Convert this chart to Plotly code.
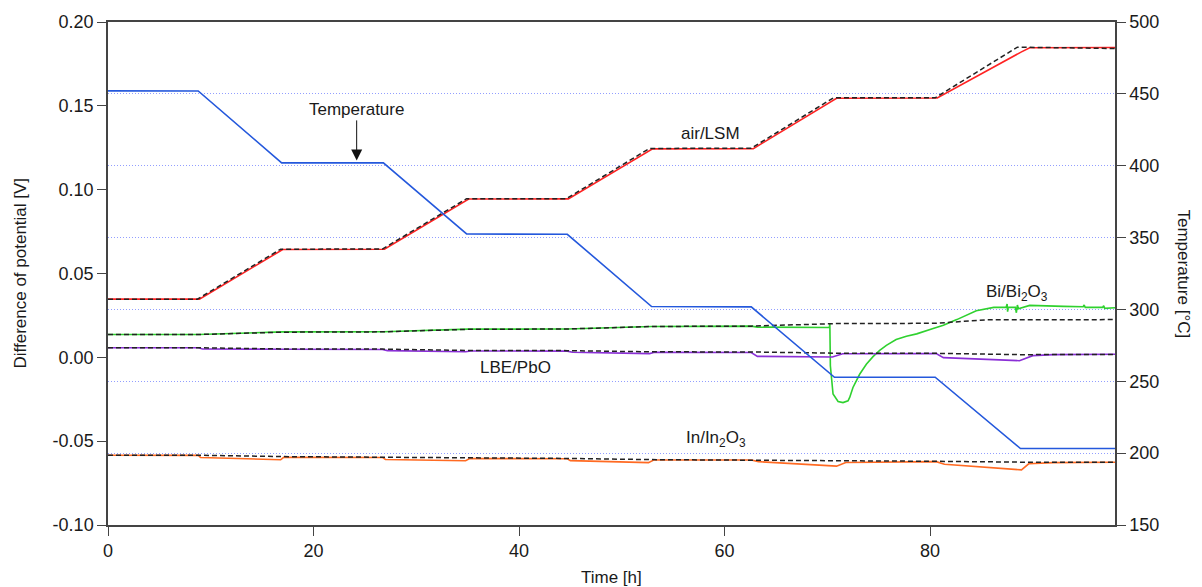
import plotly.graph_objects as go

# ---------------- data ----------------
# Temperature (right axis, degC)
temp_t = [0, 8.78, 16.9, 26.8, 34.9, 44.7, 52.9, 62.6, 70.7, 80.5, 88.8, 98]
temp_v = [452.1, 452.0, 402.0, 402.0, 352.5, 352.3, 302.0, 301.8, 252.8, 252.8, 203.2, 203.2]

# air/LSM measured (left axis, V)
lsm_t = [0, 8.9, 17.0, 26.9, 35.1, 44.8, 53.0, 62.8, 70.9, 80.7, 88.9, 89.7, 98]
lsm_v = [0.0347, 0.0347, 0.0643, 0.0645, 0.0944, 0.0945, 0.1243, 0.1245, 0.1545, 0.1547,
         0.1822, 0.1846, 0.1848]
# air/LSM theoretical (dashed)
lsm_th_t = [0, 8.7, 16.8, 26.7, 34.9, 44.6, 52.7, 62.6, 70.6, 80.5, 88.5, 98]
lsm_th_v = [0.0347, 0.0347, 0.0645, 0.0646, 0.0946, 0.0946, 0.1246, 0.1247, 0.1548, 0.1548,
            0.1850, 0.1842]

# Bi/Bi2O3 measured
bi_t = [0, 8.8, 17.0, 26.8, 35.0, 44.7, 52.9, 62.6, 63.2, 70.2, 70.25, 70.3, 70.56, 71.05,
        71.53, 72.02, 72.18, 72.5, 73.15, 73.8, 74.45, 75.1, 75.75, 76.7, 77.7, 78.7, 80.3,
        81.3, 82.6, 84.5, 86.2, 87.4, 87.5, 87.55, 87.6, 88.3, 88.4, 88.5, 88.6, 89.7, 93.0,
        94.9, 95.0, 95.1, 96.8, 96.9, 97.0, 98]
bi_v = [0.0136, 0.0136, 0.0152, 0.0153, 0.0168, 0.0169, 0.0184, 0.0186, 0.0180, 0.0178,
        0.0200, -0.0050, -0.0219, -0.0263, -0.0270, -0.0259, -0.0239, -0.0180, -0.0101,
        -0.0041, 0.0004, 0.0041, 0.0071, 0.0106, 0.0126, 0.0140, 0.0172, 0.0191, 0.0225,
        0.0278, 0.0298, 0.0298, 0.0318, 0.0272, 0.0298, 0.0298, 0.0266, 0.0312, 0.0290,
        0.0310, 0.0304, 0.0302, 0.0312, 0.0298, 0.0298, 0.0308, 0.0292, 0.0296]
# Bi/Bi2O3 theoretical
bi_th_t = [0, 8.8, 17.0, 26.8, 35.0, 44.7, 52.9, 62.6, 70.6, 80.5, 85.5, 98]
bi_th_v = [0.0136, 0.0136, 0.0150, 0.0152, 0.0167, 0.0169, 0.0184, 0.0186, 0.0201, 0.0203,
           0.0224, 0.0225]

# LBE/PbO measured
lbe_t = [0, 8.8, 9.2, 16.8, 17.2, 26.7, 27.2, 34.8, 35.3, 44.7, 45.2, 52.7, 53.2, 62.6,
         63.2, 70.5, 71.5, 80.6, 81.3, 88.7, 90.0, 92.0, 98]
lbe_v = [0.0057, 0.0057, 0.0050, 0.0044, 0.0048, 0.0047, 0.0040, 0.0033, 0.0038, 0.0037,
         0.0030, 0.0022, 0.0030, 0.0029, 0.0006, 0.0002, 0.0021, 0.0022, -0.0002, -0.0020,
         0.0010, 0.0016, 0.0018]
# LBE/PbO theoretical
lbe_th_t = [0, 8.8, 17.0, 26.7, 35.0, 44.7, 52.7, 62.6, 70.6, 80.5, 88.7, 98]
lbe_th_v = [0.0057, 0.0057, 0.0050, 0.0049, 0.0041, 0.0040, 0.0033, 0.0032, 0.0025, 0.0024,
            0.0016, 0.0017]

# In/In2O3 measured
in_t = [0, 8.8, 9.0, 16.8, 17.1, 26.7, 27.0, 34.8, 35.2, 44.7, 45.0, 52.6, 53.1, 62.6,
        63.3, 70.9, 71.8, 80.6, 81.4, 88.9, 89.6, 92.0, 98]
in_v = [-0.0584, -0.0585, -0.0597, -0.0611, -0.0596, -0.0597, -0.0609, -0.0617, -0.0604,
        -0.0605, -0.0616, -0.0628, -0.0612, -0.0612, -0.0622, -0.0649, -0.0627, -0.0622,
        -0.0638, -0.0671, -0.0635, -0.0628, -0.0626]
# In/In2O3 theoretical
in_th_t = [0, 8.8, 17.0, 26.7, 35.0, 44.7, 52.7, 62.6, 70.6, 80.5, 88.7, 98]
in_th_v = [-0.0584, -0.0584, -0.0592, -0.0595, -0.0601, -0.0603, -0.0610, -0.0612, -0.0618,
           -0.0620, -0.0625, -0.0626]

x_ticks = [0, 20, 40, 60, 80]
y_ticks = [-0.10, -0.05, 0.00, 0.05, 0.10, 0.15, 0.20]
y2_ticks = [150, 200, 250, 300, 350, 400, 450, 500]

# ---------------- styling ----------------
FONT = "Liberation Sans, Arial, sans-serif"
TXT = "#1a1a1a"
AX = "#444444"
FS = 18

fig = go.Figure()

solid = [
    (lsm_t, lsm_v, "#ff2222"),
    (bi_t, bi_v, "#2fd12f"),
    (lbe_t, lbe_v, "#8a2fd6"),
    (in_t, in_v, "#ff6a22"),
]
for t, v, c in solid:
    fig.add_trace(go.Scatter(x=t, y=v, mode="lines", line=dict(color=c, width=1.6),
                             yaxis="y", showlegend=False, hoverinfo="skip"))

for t, v in [(lsm_th_t, lsm_th_v), (bi_th_t, bi_th_v), (lbe_th_t, lbe_th_v), (in_th_t, in_th_v)]:
    fig.add_trace(go.Scatter(x=t, y=v, mode="lines",
                             line=dict(color="#222222", width=1.5, dash="5px,3px"),
                             yaxis="y", showlegend=False, hoverinfo="skip"))

fig.add_trace(go.Scatter(x=temp_t, y=temp_v, mode="lines",
                         line=dict(color="#2458dc", width=1.6),
                         yaxis="y2", showlegend=False, hoverinfo="skip"))

fig.update_layout(
    width=1202, height=587,
    margin=dict(l=108, r=87, t=18, b=62),
    paper_bgcolor="white", plot_bgcolor="white",
    font=dict(family=FONT, size=FS, color=TXT),
    showlegend=False,
    xaxis=dict(range=[0, 98], tickvals=x_ticks, ticktext=[str(v) for v in x_ticks],
               ticks="outside", ticklen=9, tickwidth=1.3, tickcolor=AX,
               showline=True, linecolor=AX, linewidth=1.5, mirror=True,
               showgrid=False, zeroline=False, tickfont=dict(size=FS)),
    yaxis=dict(range=[-0.10, 0.20], tickvals=y_ticks, ticktext=[f"{v:.2f}" for v in y_ticks],
               ticks="outside", ticklen=9, tickwidth=1.3, tickcolor=AX,
               showline=True, linecolor=AX, linewidth=1.5,
               showgrid=False, zeroline=False, tickfont=dict(size=FS)),
    yaxis2=dict(range=[150, 500], overlaying="y", side="right",
                tickvals=y2_ticks, ticktext=[str(v) for v in y2_ticks],
                ticks="outside", ticklen=9, tickwidth=1.3, tickcolor=AX,
                showline=True, linecolor=AX, linewidth=1.5,
                showgrid=True, gridcolor="rgba(110,125,255,0.75)", griddash="1px,2px",
                gridwidth=1, zeroline=False, tickfont=dict(size=FS)),
)

ann = [
    # axis titles
    dict(text="Difference of potential [V]", xref="paper", yref="paper",
         x=(20 - 108) / 1007, y=0.5, textangle=-90, showarrow=False,
         xanchor="center", yanchor="middle", font=dict(size=17)),
    dict(text="Temperature [°C]", xref="paper", yref="paper",
         x=(1183 - 108) / 1007, y=0.5, textangle=90, showarrow=False,
         xanchor="center", yanchor="middle", font=dict(size=17)),
    dict(text="Time [h]", xref="paper", yref="paper",
         x=0.5, y=(525 - 578) / 507, showarrow=False,
         xanchor="center", yanchor="middle", font=dict(size=17)),
    # series labels
    dict(text="air/LSM", x=58.6, y=0.1335, xref="x", yref="y", showarrow=False,
         font=dict(size=17)),
    dict(text="Bi/Bi<sub>2</sub>O<sub>3</sub>", x=88.5, y=0.0385, xref="x", yref="y",
         showarrow=False, font=dict(size=17)),
    dict(text="LBE/PbO", x=39.7, y=-0.0063, xref="x", yref="y", showarrow=False,
         font=dict(size=17)),
    dict(text="In/In<sub>2</sub>O<sub>3</sub>", x=59.2, y=-0.0485, xref="x", yref="y",
         showarrow=False, font=dict(size=17)),
    # temperature arrow label
    dict(text="Temperature", x=24.2, y=403, xref="x", yref="y2",
         showarrow=True, arrowhead=2, arrowsize=2.2, arrowwidth=1.0, arrowcolor="#111111",
         ax=0, ay=-52, standoff=1, font=dict(size=17)),
]
fig.update_layout(annotations=ann)

fig.write_html("out.html", config={"displayModeBar": False},
               post_script="document.body.style.margin='0';document.body.style.padding='0';")
